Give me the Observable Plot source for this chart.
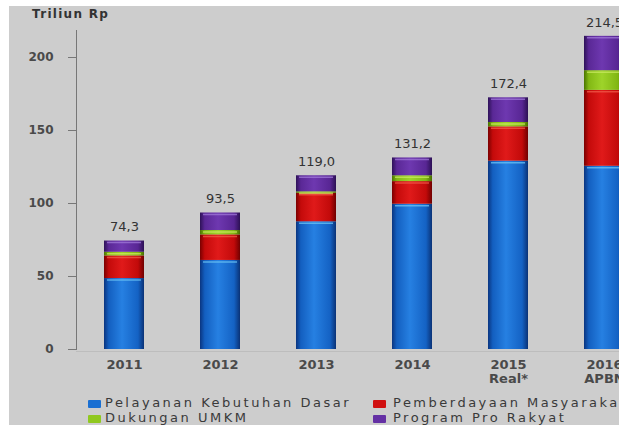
<!DOCTYPE html>
<html>
<head>
<meta charset="utf-8">
<script src="https://cdn.jsdelivr.net/npm/d3@7"></script>
<script src="https://cdn.jsdelivr.net/npm/@observablehq/plot@0.6"></script>
<style>
  html, body { margin: 0; padding: 0; overflow: hidden; background: #fff; }
  #wrap { position: relative; width: 619px; height: 425px; overflow: hidden; background: #fff; font-family: "DejaVu Sans", sans-serif; }
  #bg { position: absolute; left: 9px; top: 6px; right: 0; bottom: 0; background: #cdcdcd; }
  #title { position: absolute; left: 32px; top: 7px; font-size: 12px; font-weight: bold; color: #333; letter-spacing: 1.3px; }
  #chart { position: absolute; left: 0; top: 0; width: 660px; }
  #chart svg { max-width: none !important; }
  #legend { position: absolute; left: 0; top: 395px; width: 700px; font-size: 13px; color: #3a3a3a; letter-spacing: 2.5px; }
  .item { position: absolute; white-space: nowrap; }
  .sw { position: absolute; width: 13px; height: 8px; border-radius: 1px; }
</style>
</head>
<body>
<svg width="0" height="0" style="position:absolute">
  <defs>
    <linearGradient id="gBlue" x1="0" x2="1" y1="0" y2="0">
      <stop offset="0" stop-color="#0a3580"/>
      <stop offset="0.12" stop-color="#135fc0"/>
      <stop offset="0.45" stop-color="#2680e2"/>
      <stop offset="0.85" stop-color="#1462c4"/>
      <stop offset="1" stop-color="#0a3276"/>
    </linearGradient>
    <linearGradient id="gRed" x1="0" x2="1" y1="0" y2="0">
      <stop offset="0" stop-color="#7a0000"/>
      <stop offset="0.12" stop-color="#c40a0a"/>
      <stop offset="0.45" stop-color="#e01a1a"/>
      <stop offset="0.85" stop-color="#c20a0a"/>
      <stop offset="1" stop-color="#700000"/>
    </linearGradient>
    <linearGradient id="gGreen" x1="0" x2="1" y1="0" y2="0">
      <stop offset="0" stop-color="#4a7400"/>
      <stop offset="0.12" stop-color="#82b814"/>
      <stop offset="0.45" stop-color="#9ed42a"/>
      <stop offset="0.85" stop-color="#80b612"/>
      <stop offset="1" stop-color="#466e00"/>
    </linearGradient>
    <linearGradient id="gPurple" x1="0" x2="1" y1="0" y2="0">
      <stop offset="0" stop-color="#2e1258"/>
      <stop offset="0.12" stop-color="#5a2896"/>
      <stop offset="0.45" stop-color="#6e38b0"/>
      <stop offset="0.85" stop-color="#582694"/>
      <stop offset="1" stop-color="#2c1054"/>
    </linearGradient>
  </defs>
</svg>
<div id="wrap">
  <div id="bg"></div>
  <div id="title">Triliun Rp</div>
  <div id="chart"></div>
  <div id="legend"></div>
</div>
<script>
const years = ["2011", "2012", "2013", "2014", "2015", "2016"];
const yearSub = ["", "", "", "", "Real*", "APBN"];
const seriesNames = ["Pelayanan Kebutuhan Dasar", "Pemberdayaan Masyarakat", "Dukungan UMKM", "Program Pro Rakyat"];
const pelayanan = [48.6, 61.0, 87.5, 99.5, 129.0, 125.5];
const pemberdayaan = [15.5, 17.5, 19.5, 15.5, 23.5, 52.0];
const umkm = [2.5, 3.0, 1.0, 4.0, 3.0, 13.5];
const proRakyat = [7.7, 12.0, 11.0, 12.2, 16.9, 23.5];
const totals = [74.3, 93.5, 119.0, 131.2, 172.4, 214.5];
const yTicks = [0, 50, 100, 150, 200];

const fills = ["url(#gBlue)", "url(#gRed)", "url(#gGreen)", "url(#gPurple)"];
const highlights = ["#6cc4f4", "#f05a4a", "#c8e860", "#a07ad8"];
const swatchColors = ["#1a6fd2", "#d01010", "#90c820", "#6430a4"];

const seriesValues = [pelayanan, pemberdayaan, umkm, proRakyat];
const rows = [];
years.forEach((yr, i) => {
  let cum = 0;
  seriesNames.forEach((s, j) => {
    cum += seriesValues[j][i];
    rows.push({year: yr, series: s, value: seriesValues[j][i], top: cum});
  });
});
const totalRows = years.map((yr, i) => ({year: yr, total: totals[i], label: totals[i].toFixed(1).replace(".", ",")}));

const highlightMarks = seriesNames.map((s, j) =>
  Plot.tickY(rows.filter(r => r.series === s), {x: "year", y: "top", stroke: highlights[j], strokeWidth: 1.5, strokeOpacity: 0.75, dy: 1.5, insetLeft: 3, insetRight: 3})
);

const chart = Plot.plot({
  width: 660,
  height: 395,
  marginLeft: 76,
  marginRight: 8,
  marginTop: 30,
  marginBottom: 46,
  style: {background: "transparent", fontFamily: "DejaVu Sans, sans-serif", overflow: "visible", maxWidth: "none"},
  x: {domain: years, paddingInner: 0.58, paddingOuter: 0.29, label: null},
  y: {domain: [0, 218.5], label: null},
  color: {type: "ordinal", domain: seriesNames, range: fills},
  marks: [
    Plot.ruleY([0], {stroke: "#bdbdbd", strokeWidth: 1, dy: 2}),
    Plot.barY(rows, {x: "year", y: "value", fill: "series"}),
    ...highlightMarks,
    Plot.text(totalRows, {x: "year", y: "total", text: "label", dy: -14, fontSize: 13, fill: "#333", style: "letter-spacing:1.6px"}),
    Plot.frame({anchor: "left", stroke: "#777"}),
    Plot.axisY({ticks: yTicks, tickSize: 8, tickPadding: 15, fontSize: 12, fontWeight: "bold", fill: "#4a4a4a", stroke: "#777", style: "letter-spacing:3px", tickFormat: d => String(d)}),
    Plot.axisX({tickSize: 0, tickPadding: 9, fontSize: 13, fontWeight: "bold", fill: "#4a4a4a", lineHeight: 1.1, style: "letter-spacing:2.4px",
      tickFormat: (d) => { const i = years.indexOf(d); return yearSub[i] ? d + "\n" + yearSub[i] : d; }})
  ]
});
chart.style.maxWidth = "none";
document.getElementById("chart").appendChild(chart);

const legend = document.getElementById("legend");
const positions = [[88, 0], [373, 0], [88, 15], [373, 15]];
seriesNames.forEach((s, j) => {
  const it = document.createElement("div");
  it.className = "item";
  it.style.left = positions[j][0] + "px";
  it.style.top = positions[j][1] + "px";
  const sw = document.createElement("div");
  sw.className = "sw";
  sw.style.left = "0px";
  sw.style.top = "5px";
  sw.style.background = swatchColors[j];
  it.appendChild(sw);
  const t = document.createElement("span");
  t.textContent = s;
  t.style.marginLeft = (j % 2 === 0 ? 17 : 20) + "px";
  it.appendChild(t);
  legend.appendChild(it);
});
</script>
</body>
</html>
